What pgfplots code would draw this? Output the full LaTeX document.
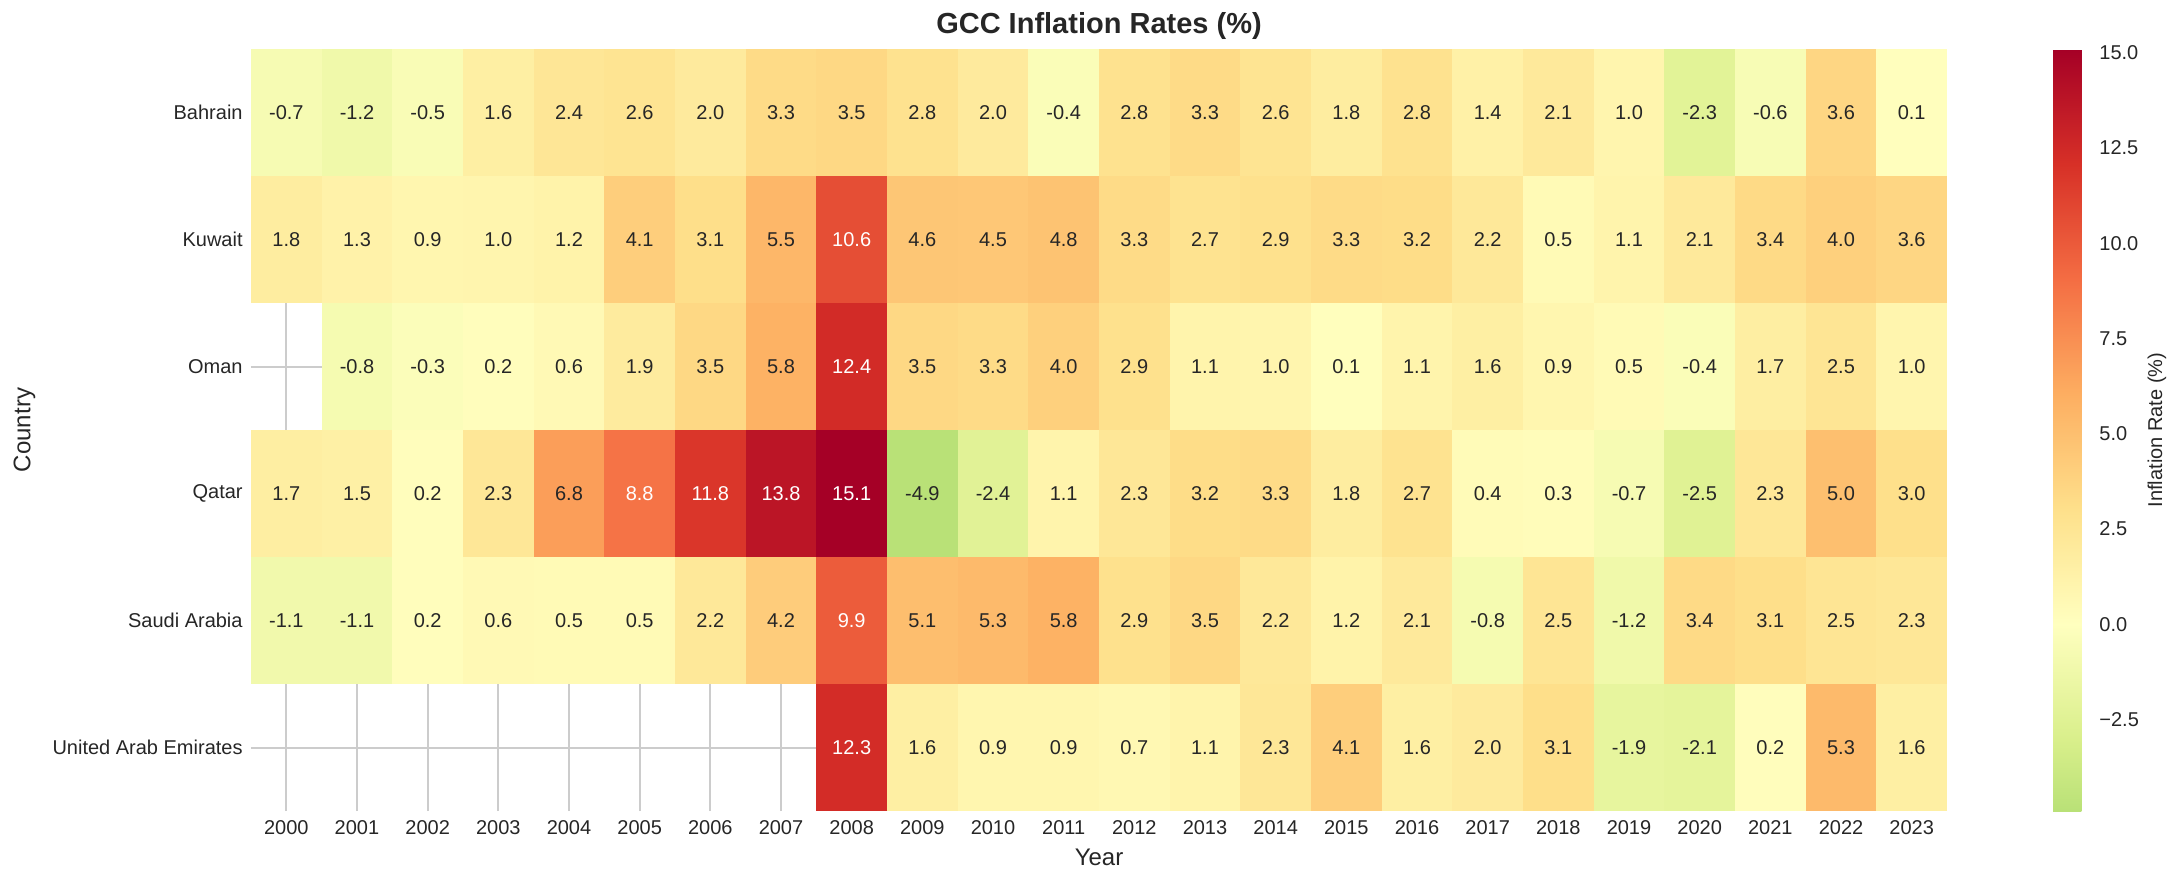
\documentclass[border=0pt]{standalone}
\usepackage{pgfplots}
\pgfplotsset{compat=1.18}
\usepackage{pgfplotstable}
\usepackage{fontspec}
\setmainfont{Liberation Sans}
\definecolor{txt}{HTML}{262626}

\pgfdeclareplotmark{cell}{%
  \pgfpathrectangle{\pgfpoint{-17.72pt}{-31.8pt}}{\pgfpoint{35.44pt}{63.6pt}}%
  \pgfusepathqfill}
\pgfdeclareplotmark{nothing}{}

\pgfplotsset{colormap={rdylgnr}{rgb255(0)=(185,225,119) rgb255(1.88)=(217,239,139) rgb255(4.9)=(255,255,191) rgb255(7.92)=(254,224,139) rgb255(10.94)=(253,174,97) rgb255(13.96)=(244,109,67) rgb255(16.98)=(215,48,39) rgb255(20)=(165,0,38)}}

% y: 5 = Bahrain, 4 = Kuwait, 3 = Oman, 2 = Qatar, 1 = Saudi Arabia, 0 = United Arab Emirates
\pgfplotstableread{
x y v
2000 5 -0.7
2001 5 -1.2
2002 5 -0.5
2003 5 1.6
2004 5 2.4
2005 5 2.6
2006 5 2.0
2007 5 3.3
2008 5 3.5
2009 5 2.8
2010 5 2.0
2011 5 -0.4
2012 5 2.8
2013 5 3.3
2014 5 2.6
2015 5 1.8
2016 5 2.8
2017 5 1.4
2018 5 2.1
2019 5 1.0
2020 5 -2.3
2021 5 -0.6
2022 5 3.6
2023 5 0.1
2000 4 1.8
2001 4 1.3
2002 4 0.9
2003 4 1.0
2004 4 1.2
2005 4 4.1
2006 4 3.1
2007 4 5.5
2008 4 10.6
2009 4 4.6
2010 4 4.5
2011 4 4.8
2012 4 3.3
2013 4 2.7
2014 4 2.9
2015 4 3.3
2016 4 3.2
2017 4 2.2
2018 4 0.5
2019 4 1.1
2020 4 2.1
2021 4 3.4
2022 4 4.0
2023 4 3.6
2001 3 -0.8
2002 3 -0.3
2003 3 0.2
2004 3 0.6
2005 3 1.9
2006 3 3.5
2007 3 5.8
2008 3 12.4
2009 3 3.5
2010 3 3.3
2011 3 4.0
2012 3 2.9
2013 3 1.1
2014 3 1.0
2015 3 0.1
2016 3 1.1
2017 3 1.6
2018 3 0.9
2019 3 0.5
2020 3 -0.4
2021 3 1.7
2022 3 2.5
2023 3 1.0
2000 2 1.7
2001 2 1.5
2002 2 0.2
2003 2 2.3
2004 2 6.8
2005 2 8.8
2006 2 11.8
2007 2 13.8
2008 2 15.1
2009 2 -4.9
2010 2 -2.4
2011 2 1.1
2012 2 2.3
2013 2 3.2
2014 2 3.3
2015 2 1.8
2016 2 2.7
2017 2 0.4
2018 2 0.3
2019 2 -0.7
2020 2 -2.5
2021 2 2.3
2022 2 5.0
2023 2 3.0
2000 1 -1.1
2001 1 -1.1
2002 1 0.2
2003 1 0.6
2004 1 0.5
2005 1 0.5
2006 1 2.2
2007 1 4.2
2008 1 9.9
2009 1 5.1
2010 1 5.3
2011 1 5.8
2012 1 2.9
2013 1 3.5
2014 1 2.2
2015 1 1.2
2016 1 2.1
2017 1 -0.8
2018 1 2.5
2019 1 -1.2
2020 1 3.4
2021 1 3.1
2022 1 2.5
2023 1 2.3
2008 0 12.3
2009 0 1.6
2010 0 0.9
2011 0 0.9
2012 0 0.7
2013 0 1.1
2014 0 2.3
2015 0 4.1
2016 0 1.6
2017 0 2.0
2018 0 3.1
2019 0 -1.9
2020 0 -2.1
2021 0 0.2
2022 0 5.3
2023 0 1.6
}\gcc

\begin{document}
\begin{tikzpicture}
\begin{axis}[
  at={(0pt,0pt)}, anchor=south west,
  scale only axis, width=848pt, height=381pt,
  xmin=1999.5, xmax=2023.5, ymin=-0.5, ymax=5.5,
  xtick={2000,2001,2002,2003,2004,2005,2006,2007,2008,2009,2010,2011,2012,2013,2014,2015,2016,2017,2018,2019,2020,2021,2022,2023},
  xticklabels={2000,2001,2002,2003,2004,2005,2006,2007,2008,2009,2010,2011,2012,2013,2014,2015,2016,2017,2018,2019,2020,2021,2022,2023},
  ytick={0,1,2,3,4,5},
  yticklabels={United Arab Emirates,Saudi Arabia,Qatar,Oman,Kuwait,Bahrain},
  major tick length=0pt,
  axis line style={draw=none},
  grid=major, major grid style={draw=black!20, line width=1pt},
  tick label style={font=\fontsize{10}{12}\selectfont, text=txt},
  xticklabel style={anchor=base, yshift=-11.5pt},
  yticklabel style={anchor=east, inner sep=0pt, xshift=-4pt},
  title={GCC Inflation Rates (\%)},
  title style={at={(axis description cs:0.5,1)}, anchor=base, yshift=1.6pt, font=\bfseries\fontsize{14.5}{17}\selectfont, text=txt},
  xlabel={Year},
  xlabel style={at={(axis description cs:0.5,0)}, anchor=base, yshift=-27pt, font=\fontsize{12}{14}\selectfont, text=txt},
  ylabel={Country},
  ylabel style={at={(axis description cs:-0.1336,0.5)}, anchor=center, font=\fontsize{12}{14}\selectfont, text=txt},
  colormap name=rdylgnr,
  point meta min=-4.9, point meta max=15.1,
  colorbar,
  colorbar shift/.style={},
  colorbar style={
    at={(parent axis.north east)}, anchor=north west, xshift=53pt,
    scale only axis, width=19pt, height=381pt,
    ytick={-2.5,0,2.5,5,7.5,10,12.5,15},
    yticklabels={−2.5,0.0,2.5,5.0,7.5,10.0,12.5,15.0},
    major tick length=0pt,
    axis line style={draw=none},
    yticklabel style={font=\fontsize{10}{12}\selectfont, text=txt, anchor=west, inner sep=0pt, xshift=4pt},
    ylabel={Inflation Rate (\%)},
    ylabel style={at={(axis description cs:2.737,0.5)}, anchor=center, font=\fontsize{10}{12}\selectfont, text=txt},
  },
]
\addplot[scatter, only marks, mark=cell, point meta=explicit,
  scatter/use mapped color={fill=mapped color, draw=none}]
  table[x=x, y=y, meta=v]{\gcc};
\addplot[only marks, mark=nothing,
  point meta=explicit symbolic, nodes near coords,
  every node near coord/.append style={anchor=center, font=\fontsize{10}{12}\selectfont, text=txt},
  restrict expr to domain={\thisrow{v}}{-100:7.9}]
  table[x=x, y=y, meta=v]{\gcc};
\addplot[only marks, mark=nothing,
  point meta=explicit symbolic, nodes near coords,
  every node near coord/.append style={anchor=center, font=\fontsize{10}{12}\selectfont, text=white},
  restrict expr to domain={\thisrow{v}}{8:100}]
  table[x=x, y=y, meta=v]{\gcc};
\end{axis}
\pgfresetboundingbox
\path (-125.5pt,-36.5pt) rectangle (965pt,405.5pt);
\end{tikzpicture}
\end{document}
